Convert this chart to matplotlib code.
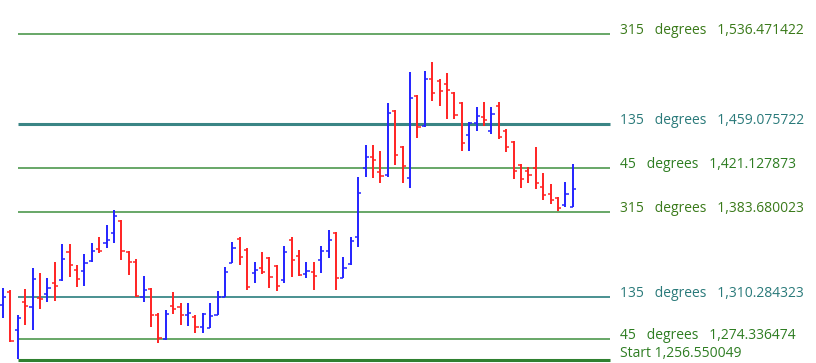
import matplotlib
matplotlib.use("Agg")
import matplotlib.pyplot as plt

# OHLC data (one bar per period)
opens = [1303.5, 1314.6, 1282.0, 1306.0, 1301.7, 1309.5, 1312.9, 1322.4, 1325.0, 1349.0,
         1333.6, 1332.7, 1341.3, 1351.6, 1356.8, 1365.4, 1375.7, 1349.0, 1340.4, 1310.3,
         1317.2, 1294.9, 1274.2, 1302.6, 1301.7, 1294.9, 1293.1, 1284.5, 1283.7, 1294.9,
         1310.3, 1339.6, 1360.2, 1350.8, 1331.0, 1335.3, 1343.9, 1337.0, 1325.0, 1359.4,
         1345.6, 1330.1, 1331.8, 1342.2, 1349.9, 1365.4, 1326.7, 1338.7, 1361.9, 1421.3,
         1430.7, 1417.8, 1415.3, 1470.3, 1439.3, 1412.7, 1483.2, 1457.4, 1497.8, 1496.1,
         1493.5, 1485.8, 1477.2, 1449.7, 1460.0, 1465.1, 1453.1, 1474.6, 1453.1, 1443.6,
         1423.9, 1418.7, 1421.3, 1404.9, 1398.9, 1395.5, 1389.5, 1387.7]
highs = [1318.1, 1316.4, 1294.9, 1317.2, 1335.3, 1331.0, 1326.7, 1340.4, 1355.9, 1355.9,
         1337.9, 1347.3, 1356.8, 1361.9, 1372.3, 1385.2, 1376.6, 1349.9, 1343.0, 1328.4,
         1318.1, 1296.6, 1299.2, 1314.6, 1305.2, 1305.2, 1294.9, 1296.6, 1305.2, 1315.5,
         1336.1, 1357.6, 1361.9, 1352.5, 1340.4, 1349.0, 1344.7, 1337.9, 1354.2, 1361.9,
         1350.8, 1340.4, 1340.4, 1354.2, 1367.9, 1366.2, 1344.7, 1361.9, 1413.5, 1441.1,
         1441.1, 1435.9, 1477.2, 1471.2, 1440.2, 1503.8, 1484.1, 1504.7, 1512.4, 1497.8,
         1503.0, 1486.6, 1478.0, 1460.8, 1473.7, 1478.0, 1473.7, 1478.0, 1454.8, 1444.5,
         1424.7, 1422.1, 1439.3, 1417.0, 1407.5, 1396.3, 1409.2, 1424.7]
lows = [1292.3, 1271.6, 1257.0, 1286.3, 1282.0, 1300.0, 1306.0, 1306.9, 1324.1, 1327.5,
        1318.9, 1319.8, 1340.4, 1348.2, 1352.5, 1356.8, 1342.2, 1329.3, 1310.3, 1306.0,
        1284.5, 1270.8, 1273.4, 1295.7, 1286.3, 1285.4, 1279.4, 1279.4, 1283.7, 1294.9,
        1310.3, 1339.6, 1337.9, 1316.4, 1322.4, 1330.1, 1318.1, 1315.5, 1322.4, 1327.5,
        1328.4, 1326.7, 1316.4, 1331.0, 1343.9, 1316.4, 1326.7, 1337.9, 1353.3, 1413.5,
        1412.7, 1408.4, 1413.5, 1423.9, 1408.4, 1404.1, 1447.1, 1456.5, 1478.9, 1474.6,
        1463.4, 1463.4, 1435.9, 1435.9, 1453.1, 1457.4, 1450.5, 1446.2, 1435.0, 1411.8,
        1404.1, 1408.4, 1403.2, 1393.8, 1390.3, 1384.3, 1387.7, 1387.7]
closes = [1310.3, 1272.5, 1292.3, 1302.6, 1325.8, 1308.6, 1318.1, 1319.8, 1343.0, 1337.9,
          1325.8, 1339.6, 1349.9, 1349.9, 1359.4, 1380.0, 1349.9, 1340.4, 1311.2, 1316.4,
          1294.9, 1275.1, 1295.7, 1300.0, 1294.9, 1296.6, 1284.5, 1295.7, 1294.0, 1310.3,
          1331.8, 1352.5, 1344.7, 1318.9, 1333.6, 1331.8, 1327.5, 1319.8, 1349.0, 1342.2,
          1329.3, 1332.7, 1328.4, 1349.9, 1359.4, 1326.7, 1335.3, 1358.5, 1399.8, 1430.7,
          1428.2, 1414.4, 1468.6, 1432.5, 1423.0, 1481.5, 1456.5, 1497.8, 1485.8, 1487.5,
          1488.4, 1466.9, 1442.8, 1460.0, 1466.0, 1462.6, 1467.7, 1447.9, 1439.3, 1418.7,
          1411.8, 1415.3, 1408.4, 1398.1, 1393.8, 1386.9, 1398.9, 1403.2]

# Gann levels
level_names = ["315", "135", "45", "315", "135", "45", "Start"]
level_values = [1536.471422, 1459.075722, 1421.127873, 1383.680023,
                1310.284323, 1274.336474, 1256.550049]
level_colors = ["#3f8f3f", "#3a8585", "#3f8f3f", "#3f8f3f", "#4a9090", "#3f8f3f", "#2f8030"]
level_widths = [1.1, 2.2, 1.1, 1.1, 1.4, 1.1, 2.2]
text_colors = ["#3a7a1a", "#2a7a7a", "#2e7d22", "#3a7a1a", "#2a7a7a", "#2e7d22", "#2e7d22"]

UP = "#2323ff"
DOWN = "#ff2323"

fig = plt.figure(figsize=(8.16, 3.63), dpi=100)
ax = fig.add_axes([0, 0, 1, 1])
ax.set_xlim(-0.405, 109.86)
ax.set_ylim(1253.58, 1565.70)
ax.axis("off")

line_x0, line_x1, text_x = 2.03, 82.03, 83.4

for name, val, col, lw, tc in zip(level_names, level_values, level_colors, level_widths, text_colors):
    ax.plot([line_x0, line_x1], [val, val], color=col, lw=lw, solid_capstyle="butt", zorder=1)
    if name == "Start":
        label = f"Start {val:,.6f}"
        y = val + 2.5
    else:
        label = f"{name}   degrees   {val:,.6f}"
        y = val
    ax.text(text_x, y, label, color=tc, fontsize=10, family="Open Sans",
            va="baseline", ha="left")

tick = 0.42
for i, (o, h, l, c) in enumerate(zip(opens, highs, lows, closes)):
    col = UP if c >= o else DOWN
    ax.plot([i, i], [l, h], color=col, lw=1.4, solid_capstyle="butt", zorder=2)
    ax.plot([i - tick, i], [o, o], color=col, lw=1.1, solid_capstyle="butt", zorder=2)
    ax.plot([i, i + tick], [c, c], color=col, lw=1.1, solid_capstyle="butt", zorder=2)

fig.savefig("out.png", dpi=100)
